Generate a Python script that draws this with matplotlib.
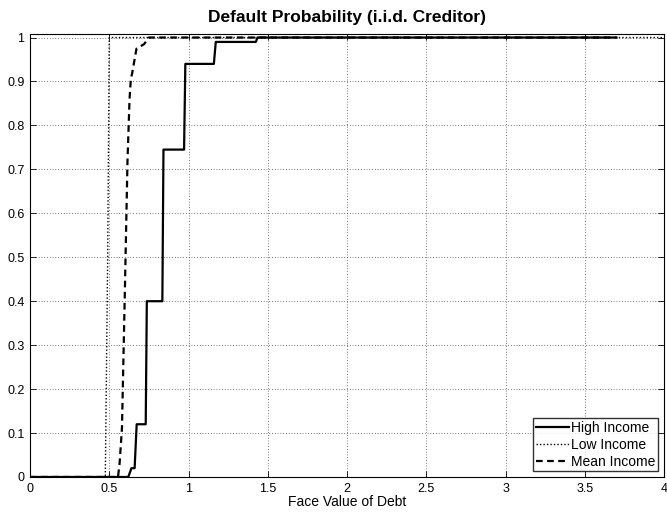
import numpy as np
import matplotlib
matplotlib.use("Agg")
import matplotlib.pyplot as plt

plt.rcParams['font.family'] = ['Liberation Sans', 'DejaVu Sans']

# face value of debt / default probability
high_x = [0, 0.62, 0.64, 0.66, 0.673, 0.73, 0.737, 0.835, 0.842, 0.972, 0.98, 1.16, 1.172, 1.425, 1.435, 3.7]
high_y = [0, 0, 0.02, 0.02, 0.12, 0.12, 0.40, 0.40, 0.745, 0.745, 0.94, 0.94, 0.99, 0.99, 1.0, 1.0]

low_x = [0, 0.475, 0.49, 0.5, 4.0]
low_y = [0, 0, 0.5, 1.0, 1.0]

mean_x = [0, 0.555, 0.565, 0.58, 0.6, 0.615, 0.628, 0.636, 0.645, 0.672, 0.72, 0.75, 3.7]
mean_y = [0, 0, 0.03, 0.11, 0.45, 0.72, 0.86, 0.905, 0.92, 0.975, 0.985, 1.0, 1.0]

xticks = np.arange(0, 4.01, 0.5)
yticks = np.arange(0, 1.01, 0.1)

fig = plt.figure(figsize=(6.67, 5.17), dpi=100)
ax = fig.add_axes([0.045, 0.0774, 0.9505, 0.8568])

ax.plot(high_x, high_y, color='black', lw=1.6, ls='-', label='High Income')
ax.plot(low_x, low_y, color='black', lw=1.0, ls=(0, (1, 1.5)), label='Low Income')
ax.plot(mean_x, mean_y, color='black', lw=1.6, ls=(0, (3, 2)), label='Mean Income')

ax.set_xlim(0, 4)
ax.set_ylim(0, 1.008)
ax.set_xticks(xticks)
ax.set_xticklabels(['0', '0.5', '1', '1.5', '2', '2.5', '3', '3.5', '4'])
ax.set_yticks(yticks)
ax.set_yticklabels(['0', '0.1', '0.2', '0.3', '0.4', '0.5', '0.6', '0.7', '0.8', '0.9', '1'])
ax.tick_params(direction='in', top=True, right=True, labelsize=9, length=4, width=0.6)
ax.tick_params(axis='x', pad=4)
ax.tick_params(axis='y', pad=4)
ax.grid(True, color='black', ls=(0, (1, 3)), lw=0.5)
for s in ax.spines.values():
    s.set_linewidth(0.8)

ax.set_xlabel('Face Value of Debt', fontsize=10, labelpad=0)
ax.set_title('Default Probability (i.i.d. Creditor)', fontsize=12.5, fontweight='bold', pad=9)

leg = ax.legend(loc='lower right', fontsize=10, frameon=True, fancybox=False,
                edgecolor='black', handlelength=2.4, handletextpad=0.15,
                borderpad=0.2, labelspacing=0.2, borderaxespad=0.4)
leg.get_frame().set_linewidth(1.0)

fig.savefig('out.png', dpi=100)
